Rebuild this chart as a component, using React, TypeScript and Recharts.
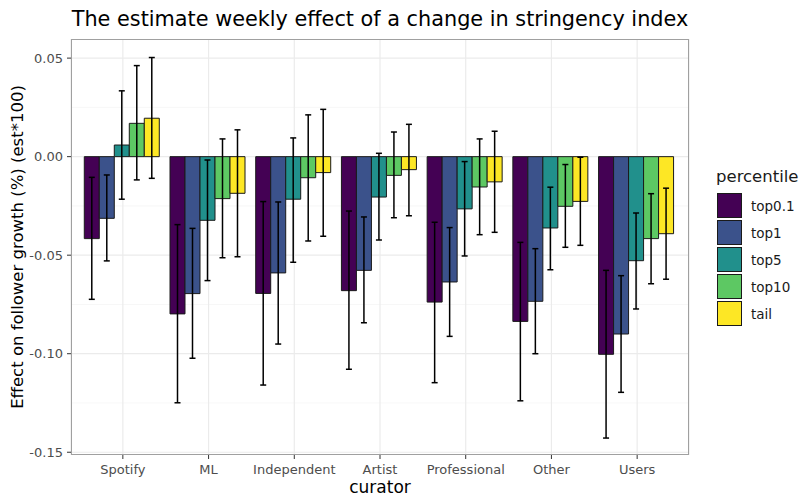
import {
  BarChart,
  Bar,
  XAxis,
  YAxis,
  CartesianGrid,
  ErrorBar,
  Label,
} from "recharts";

const categories = ["Spotify", "ML", "Independent", "Artist", "Professional", "Other", "Users"];
const percentiles = ["top0.1", "top1", "top5", "top10", "tail"];

// point estimates per percentile, one value per curator
const top01Est = [-0.0416, -0.0798, -0.0694, -0.068, -0.0738, -0.0836, -0.1003];
const top1Est = [-0.0313, -0.0695, -0.059, -0.0577, -0.0636, -0.0734, -0.09];
const top5Est = [0.0059, -0.0323, -0.0216, -0.0205, -0.0265, -0.0362, -0.0528];
const top10Est = [0.0169, -0.0213, -0.0107, -0.0095, -0.0154, -0.0252, -0.0416];
const tailEst = [0.0195, -0.0186, -0.0081, -0.0066, -0.0128, -0.0227, -0.0391];

// confidence bounds
const top01Low = [-0.0724, -0.1249, -0.1159, -0.1079, -0.1147, -0.1239, -0.1428];
const top01High = [-0.0105, -0.0345, -0.0228, -0.0276, -0.0333, -0.0435, -0.0577];
const top1Low = [-0.0529, -0.1023, -0.0951, -0.0843, -0.0912, -0.1, -0.1196];
const top1High = [-0.0093, -0.0364, -0.023, -0.0306, -0.036, -0.0467, -0.0604];
const top5Low = [-0.0216, -0.0629, -0.0536, -0.0423, -0.0504, -0.0574, -0.0773];
const top5High = [0.0334, -0.0017, 0.0095, 0.0017, -0.0025, -0.0155, -0.0286];
const top10Low = [-0.0118, -0.0513, -0.0428, -0.031, -0.0396, -0.046, -0.0645];
const top10High = [0.0462, 0.009, 0.0212, 0.0125, 0.009, -0.004, -0.0188];
const tailLow = [-0.011, -0.0508, -0.0404, -0.03, -0.0384, -0.045, -0.0622];
const tailHigh = [0.0503, 0.0136, 0.024, 0.0164, 0.0129, -0.0003, -0.016];

const yTicks = [-0.15, -0.1, -0.05, 0, 0.05];
const yMinor = [-0.125, -0.075, -0.025, 0.025];

const COLORS = ["#440154", "#3B528B", "#21908C", "#5DC863", "#FDE725"];
const FONT = "DejaVu Sans, sans-serif";

const estimates = [top01Est, top1Est, top5Est, top10Est, tailEst];
const lows = [top01Low, top1Low, top5Low, top10Low, tailLow];
const highs = [top01High, top1High, top5High, top10High, tailHigh];

const data = categories.map((curator, c) => {
  const row: Record<string, any> = { curator };
  percentiles.forEach((_, i) => {
    const est = estimates[i][c];
    row[`p${i}`] = est;
    row[`e${i}`] = [est - lows[i][c], highs[i][c] - est];
  });
  return row;
});

function PercentileLegend() {
  return (
    <div
      style={{
        position: "absolute",
        left: 716,
        top: 167,
        fontFamily: FONT,
        color: "#1a1a1a",
      }}
    >
      <div style={{ fontSize: 16.5, lineHeight: "19px", marginBottom: 6 }}>percentile</div>
      {percentiles.map((p, i) => (
        <div key={p} style={{ display: "flex", alignItems: "center", height: 27 }}>
          <div
            style={{
              width: 25,
              height: 25,
              background: COLORS[i],
              border: "1.5px solid #1a1a1a",
              boxSizing: "border-box",
              marginLeft: 1,
            }}
          />
          <span style={{ fontSize: 13.5, marginLeft: 9, color: "#1a1a1a" }}>{p}</span>
        </div>
      ))}
    </div>
  );
}

export default function App() {
  return (
    <div style={{ position: "absolute", left: 0, top: 0, width: 803, height: 496, background: "#fff" }}>
      <div
        style={{
          position: "absolute",
          left: 0,
          width: 760,
          top: 7,
          lineHeight: "24px",
          textAlign: "center",
          fontFamily: FONT,
          fontSize: 20.8,
          color: "#000",
        }}
      >
        The estimate weekly effect of a change in stringency index
      </div>
      <BarChart
        width={803}
        height={496}
        data={data}
        margin={{ top: 39, right: 114, bottom: 0, left: 0 }}
        barCategoryGap="5%"
        barGap={0}
      >
        <CartesianGrid
          horizontalValues={yMinor}
          vertical={false}
          stroke="#F5F5F5"
          strokeWidth={0.8}
        />
        <CartesianGrid horizontalValues={yTicks} stroke="#EBEBEB" strokeWidth={1.2} />
        <XAxis
          dataKey="curator"
          padding={{ left: 9, right: 9 }}
          height={41}
          axisLine={false}
          tickSize={4}
          tickMargin={6}
          tickLine={{ stroke: "#333" }}
          tick={{ fill: "#4D4D4D", fontSize: 13, fontFamily: FONT }}
        >
          <Label
            value="curator"
            position="insideBottom"
            offset={3}
            style={{ fill: "#000", fontSize: 17, fontFamily: FONT }}
          />
        </XAxis>
        <YAxis
          type="number"
          domain={[-0.1514, 0.0597]}
          ticks={yTicks}
          allowDataOverflow
          width={71}
          axisLine={false}
          tickSize={4}
          tickMargin={4}
          tickLine={{ stroke: "#333" }}
          tickFormatter={(v: number) => v.toFixed(2)}
          tick={{ fill: "#4D4D4D", fontSize: 13, fontFamily: FONT }}
        >
          <Label
            value="Effect on follower growth (%) (est*100)"
            angle={-90}
            position="insideLeft"
            offset={17}
            style={{ textAnchor: "middle", fill: "#000", fontSize: 16.5, fontFamily: FONT }}
          />
        </YAxis>
        {percentiles.map((p, i) => (
          <Bar
            key={p}
            dataKey={`p${i}`}
            name={p}
            fill={COLORS[i]}
            stroke="#1a1a1a"
            strokeWidth={1}
            isAnimationActive={false}
          >
            <ErrorBar dataKey={`e${i}`} width={3} stroke="#000" strokeWidth={1.5} />
          </Bar>
        ))}
      </BarChart>
      <div
        style={{
          position: "absolute",
          left: 71,
          top: 39,
          width: 618,
          height: 416,
          border: "1px solid #a0a0a0",
          boxSizing: "border-box",
          pointerEvents: "none",
        }}
      />
      <PercentileLegend />
    </div>
  );
}
